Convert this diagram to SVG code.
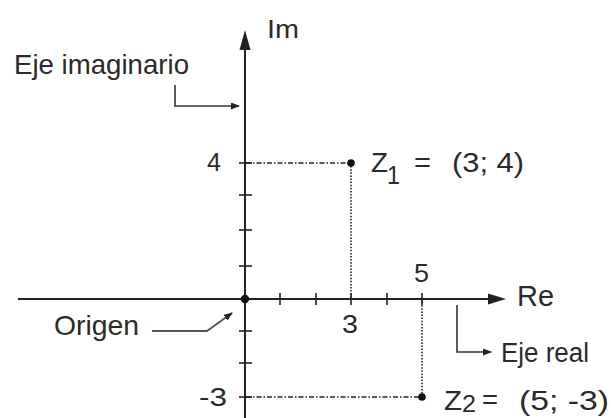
<svg xmlns="http://www.w3.org/2000/svg" width="611" height="418" viewBox="0 0 611 418">
<defs>
<style>
text{font-family:"Liberation Sans",Arial,sans-serif;fill:#2a2a2a;}
.ax{stroke:#222;stroke-width:2;fill:none;}
.tk{stroke:#222;stroke-width:1.6;fill:none;}
.hd{stroke:#222;stroke-width:1.6;stroke-dasharray:5 2 1.5 2;fill:none;}
.vd{stroke:#222;stroke-width:1.6;stroke-dasharray:1.5 1.6;fill:none;}
.ld{stroke:#333;stroke-width:1.6;fill:none;}
.lg{stroke:#555;stroke-width:1.8;fill:none;}
</style>
<marker id="sm" markerWidth="9" markerHeight="7" refX="8" refY="3.5" orient="auto" markerUnits="userSpaceOnUse">
<path d="M0,0 L9,3.5 L0,7 Z" fill="#222"/>
</marker>
</defs>
<rect width="611" height="418" fill="#fff"/>

<g id="connectors">
<line class="ax" x1="18" y1="299" x2="490" y2="299"/>
<path d="M506,299 L488,293.5 L488,304.5 Z" fill="#222"/>
<line class="ax" x1="245" y1="418" x2="245" y2="48"/>
<path d="M245,30 L239.5,50 L250.5,50 Z" fill="#222"/>
<g class="tk">
<line x1="280" y1="293" x2="280" y2="305"/>
<line x1="316" y1="293" x2="316" y2="305"/>
<line x1="351" y1="293" x2="351" y2="305"/>
<line x1="387" y1="293" x2="387" y2="305"/>
<line x1="422" y1="293" x2="422" y2="305"/>
<line x1="239" y1="163" x2="252" y2="163"/>
<line x1="239" y1="195" x2="252" y2="195"/>
<line x1="239" y1="230" x2="252" y2="230"/>
<line x1="239" y1="266" x2="252" y2="266"/>
<line x1="239" y1="331" x2="252" y2="331"/>
<line x1="239" y1="363" x2="252" y2="363"/>
<line x1="239" y1="397" x2="252" y2="397"/>
</g>
<line class="hd" x1="246" y1="163" x2="351" y2="163"/>
<line class="vd" x1="351" y1="163" x2="351" y2="299"/>
<line class="hd" x1="246" y1="397" x2="422" y2="397"/>
<line class="vd" x1="422" y1="299" x2="422" y2="397"/>
<path class="ld" d="M175,85 L175,106 L239,106" marker-end="url(#sm)"/>
<path class="ld" d="M457,305 L457,352 L491,352" marker-end="url(#sm)"/>
<path class="lg" d="M152,331 L207,331 L232,313" marker-end="url(#sm)"/>
</g>

<g id="origin"><circle cx="245" cy="299" r="4.2" fill="#111"/></g>
<g id="z1">
<circle cx="351" cy="163" r="3.8" fill="#111"/>
<text x="371" y="172" font-size="28" textLength="17" lengthAdjust="spacingAndGlyphs">Z</text>
<text x="387" y="184" font-size="26" textLength="13" lengthAdjust="spacingAndGlyphs">1</text>
<text x="414" y="172" font-size="27" textLength="17" lengthAdjust="spacingAndGlyphs">=</text>
<text x="452" y="172" font-size="27" textLength="72" lengthAdjust="spacingAndGlyphs">(3; 4)</text>
</g>
<g id="z2">
<circle cx="422" cy="397" r="3.8" fill="#111"/>
<text x="444" y="410" font-size="28" textLength="18" lengthAdjust="spacingAndGlyphs">Z</text>
<text x="462" y="412" font-size="23" textLength="14" lengthAdjust="spacingAndGlyphs">2</text>
<text x="482" y="409" font-size="27" textLength="16" lengthAdjust="spacingAndGlyphs">=</text>
<text x="519" y="410" font-size="27" textLength="90" lengthAdjust="spacingAndGlyphs">(5; -3)</text>
</g>

<g id="labels">
<text x="267" y="38" font-size="25" textLength="32" lengthAdjust="spacingAndGlyphs">Im</text>
<text x="14" y="74" font-size="28" textLength="175" lengthAdjust="spacingAndGlyphs">Eje imaginario</text>
<text x="207" y="171" font-size="25" textLength="14" lengthAdjust="spacingAndGlyphs">4</text>
<text x="414" y="282" font-size="26" textLength="15" lengthAdjust="spacingAndGlyphs">5</text>
<text x="342" y="333" font-size="26" textLength="16" lengthAdjust="spacingAndGlyphs">3</text>
<text x="517" y="306" font-size="29" textLength="37" lengthAdjust="spacingAndGlyphs">Re</text>
<text x="501" y="362" font-size="27" textLength="88" lengthAdjust="spacingAndGlyphs">Eje real</text>
<text x="54" y="335" font-size="28" textLength="85" lengthAdjust="spacingAndGlyphs">Origen</text>
<text x="199" y="406" font-size="26" textLength="28" lengthAdjust="spacingAndGlyphs">-3</text>
</g>
</svg>
